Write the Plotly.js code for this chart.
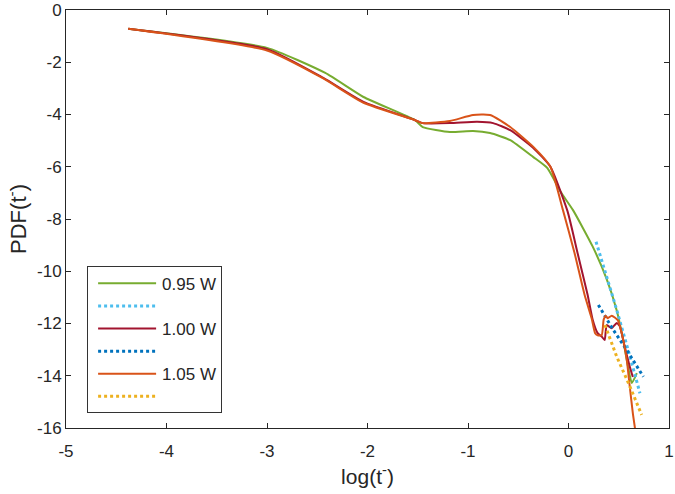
<!DOCTYPE html>
<html>
<head>
<meta charset="utf-8">
<script src="https://cdn.plot.ly/plotly-3.0.1.min.js"></script>
<style>
html,body{margin:0;padding:0;background:#fff;}
#chart{width:675px;height:494px;}
</style>
</head>
<body>
<div id="chart"></div>
<script>
// 0.95 W (green)
const x095 = [-4.38, -3.0, -2.42, -2.04, -1.53, -1.45, -1.18, -0.95, -0.78, -0.58, -0.35, -0.21, -0.08, 0.045, 0.24, 0.38, 0.48, 0.54, 0.59, 0.63, 0.68];
const y095 = [-0.72, -1.45, -2.41, -3.33, -4.21, -4.48, -4.67, -4.63, -4.71, -4.98, -5.63, -6.05, -6.95, -7.66, -9.05, -10.3, -11.5, -12.55, -13.6, -14.28, -13.9];
// fit for 0.95 W (light blue dotted)
const xFit095 = [0.274, 0.38, 0.48, 0.612, 0.711];
const yFit095 = [-8.87, -10.21, -11.48, -13.27, -14.67];
// 1.00 W (dark red)
const x100 = [-4.38, -3.0, -2.44, -2.04, -1.53, -1.45, -1.18, -0.91, -0.75, -0.58, -0.35, -0.18, -0.01, 0.09, 0.19, 0.24, 0.29, 0.33, 0.36, 0.38, 0.43, 0.48, 0.51, 0.56, 0.61, 0.64];
const y100 = [-0.72, -1.5, -2.6, -3.52, -4.21, -4.33, -4.33, -4.28, -4.33, -4.6, -5.28, -6.0, -7.7, -9.3, -10.9, -11.85, -12.37, -12.5, -12.63, -12.06, -12.18, -11.98, -12.1, -12.9, -13.66, -14.05];
// fit for 1.00 W (dark blue dotted)
const xFit100 = [0.297, 0.446, 0.579, 0.745];
const yFit100 = [-11.29, -12.25, -13.01, -14.04];
// 1.05 W (orange)
const x105 = [-4.38, -3.0, -2.44, -2.04, -1.53, -1.45, -1.18, -0.95, -0.78, -0.58, -0.35, -0.18, -0.055, 0.06, 0.16, 0.23, 0.265, 0.29, 0.33, 0.35, 0.37, 0.39, 0.43, 0.49, 0.53, 0.58, 0.61, 0.64, 0.665];
const y105 = [-0.72, -1.55, -2.62, -3.55, -4.21, -4.33, -4.25, -4.02, -4.02, -4.48, -5.24, -6.0, -7.66, -9.3, -10.9, -11.8, -12.37, -12.45, -12.45, -11.85, -11.7, -11.8, -11.7, -11.87, -12.37, -13.4, -14.43, -15.43, -16.1];
// fit for 1.05 W (yellow dotted)
const xFit105 = [0.363, 0.48, 0.612, 0.728];
const yFit105 = [-12.06, -13.27, -14.42, -15.5];

const names = ['0.95 W', '', '1.00 W', '', '1.05 W', ''];
const xTicks = [-5, -4, -3, -2, -1, 0, 1];
const yTicks = [0, -2, -4, -6, -8, -10, -12, -14, -16];

const C = {green:'#77AC30', lblue:'#4DBEEE', red:'#A2142F', dblue:'#0072BD', orange:'#D95319', yellow:'#EDB120'};
const FONT = 'Liberation Sans, Arial, sans-serif';

const traces = [
  {x:x095, y:y095, name:names[0], mode:'lines', line:{color:C.green, width:2, shape:'spline', smoothing:0.5}},
  {x:xFit095, y:yFit095, name:names[1], mode:'lines', line:{color:C.lblue, width:3, dash:'dot'}},
  {x:x100, y:y100, name:names[2], mode:'lines', line:{color:C.red, width:2, shape:'spline', smoothing:0.5}},
  {x:xFit100, y:yFit100, name:names[3], mode:'lines', line:{color:C.dblue, width:3, dash:'dot'}},
  {x:x105, y:y105, name:names[4], mode:'lines', line:{color:C.orange, width:2, shape:'spline', smoothing:0.5}},
  {x:xFit105, y:yFit105, name:names[5], mode:'lines', line:{color:C.yellow, width:3, dash:'dot'}}
];

const axisCommon = {
  showgrid:false, zeroline:false, showline:true, linecolor:'#262626', linewidth:1,
  mirror:'ticks', ticks:'inside', ticklen:5, tickcolor:'#262626',
  tickfont:{family:FONT, size:17, color:'#262626'}
};

const layout = {
  width:675, height:494,
  margin:{l:66, r:6, t:10, b:66},
  paper_bgcolor:'#fff', plot_bgcolor:'#fff',
  font:{family:FONT, color:'#262626'},
  xaxis: Object.assign({}, axisCommon, {
    range:[-5, 1], tickvals:xTicks, ticktext:xTicks.map(String), ticklabelstandoff:8,
    title:{text:'log(t<sup>-</sup>)', font:{size:21, color:'#262626'}, standoff:8}
  }),
  yaxis: Object.assign({}, axisCommon, {
    range:[-16, 0], tickvals:yTicks, ticktext:yTicks.map(String),
    title:{text:'PDF(t<sup>-</sup>)', font:{size:22, color:'#262626'}, standoff:4}
  }),
  showlegend:true,
  legend:{x:0.035, y:0.388, xanchor:'left', yanchor:'top', bgcolor:'#fff',
    bordercolor:'#333', borderwidth:1, font:{size:17, color:'#262626'},
    itemwidth:64, tracegroupgap:0}
};

Plotly.newPlot('chart', traces, layout, {staticPlot:true}).then(function(){
  const gd = document.getElementById('chart');
  gd.querySelectorAll('.legend .legendlines path').forEach(function(p){
    p.setAttribute('d', 'M10,0h58');
  });
  // tighten legend row spacing to match the reference
  const items = Array.from(gd.querySelectorAll('.legend .traces'));
  const parse = function(el){
    const m = /translate\(\s*([-\d.]+)[ ,]+([-\d.]+)\s*\)/.exec(el.getAttribute('transform') || '');
    return m ? [parseFloat(m[1]), parseFloat(m[2])] : [0, 0];
  };
  if (items.length > 1) {
    const first = parse(items[0]);
    const oldStep = parse(items[1])[1] - first[1];
    const step = 22.6;
    const y0 = first[1] - 1;
    items.forEach(function(el, i){
      const t = parse(el);
      el.setAttribute('transform', 'translate(' + t[0] + ',' + (y0 + step * i) + ')');
    });
    const shrink = (oldStep - step) * (items.length - 1) + 1 + (oldStep - step);
    gd.querySelectorAll('.legend rect.bg').forEach(function(r){
      const h = parseFloat(r.getAttribute('height'));
      r.setAttribute('height', h - shrink);
    });
    gd.querySelectorAll('clipPath[id*="legend"] rect').forEach(function(r){
      const h = parseFloat(r.getAttribute('height'));
      r.setAttribute('height', h - shrink);
    });
  }
});
</script>
</body>
</html>
